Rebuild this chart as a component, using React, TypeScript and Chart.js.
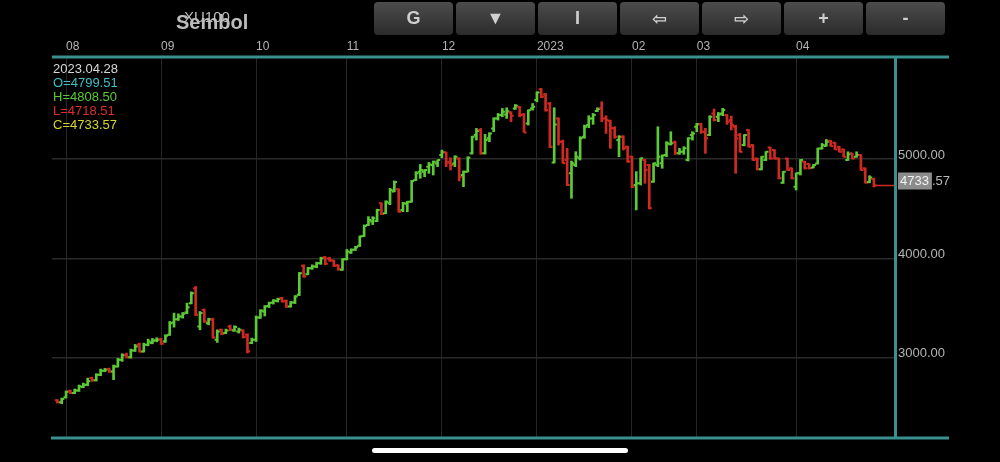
import React, { useEffect, useRef } from 'react';
import { Chart, registerables } from 'chart.js';

Chart.register(...registerables);

const monthStarts = [2, 24, 46, 67, 89, 111, 133, 148, 171];
const monthLabels = ['08', '09', '10', '11', '12', '2023', '02', '03', '04'];
const yTicks = [3000, 4000, 5000];
const lastDate = '2023.04.28';
const symbol = 'XU100';
const symbolHeader = 'Sembol';
const buttonLabels = ['G', '▼', 'I', '⇦', '⇨', '+', '-'];

const open = [
  2571, 2551, 2601, 2665, 2644, 2671, 2705, 2728, 2795, 2772,
  2829, 2869, 2886, 2862, 2912, 2979, 3030, 3006, 3073, 3134,
  3063, 3130, 3147, 3174, 3187, 3164, 3231, 3355, 3388, 3415,
  3455, 3549, 3700, 3315, 3482, 3348, 3382, 3181, 3281, 3248,
  3315, 3275, 3265, 3275, 3231, 3148, 3181, 3405, 3466, 3520,
  3556, 3570, 3600, 3573, 3516, 3556, 3633, 3925, 3840, 3901,
  3918, 3950, 4012, 4000, 3978, 3930, 3885, 3992, 4059, 4086,
  4126, 4226, 4337, 4370, 4375, 4555, 4454, 4555, 4672, 4695,
  4488, 4550, 4571, 4789, 4873, 4873, 4923, 4940, 4956, 5040,
  5067, 4966, 4956, 5006, 4839, 4873, 5057, 5241, 5291, 5057,
  5208, 5308, 5409, 5442, 5449, 5469, 5509, 5526, 5449, 5358,
  5509, 5593, 5703, 5650, 5559, 4966, 5409, 5174, 4990, 4856,
  4940, 5007, 5225, 5342, 5409, 5483, 5510, 5409, 5382, 5309,
  5191, 5225, 5124, 5024, 4739, 4756, 4990, 4940, 4772, 4940,
  4957, 5041, 5148, 5168, 5057, 5074, 4990, 5242, 5325, 5349,
  5275, 5242, 5459, 5426, 5459, 5443, 5392, 5325, 5241, 5140,
  5291, 5140, 5006, 4896, 4990, 5116, 5090, 5006, 4762, 5006,
  4906, 4722, 4856, 4973, 4950, 4915, 4956, 5106, 5132, 5183,
  5164, 5124, 5096, 4990, 5057, 5023, 5040, 4906, 4769, 4799.51,
];
const high = [
  2578, 2594, 2665, 2675, 2685, 2725, 2745, 2795, 2805, 2839,
  2886, 2892, 2896, 2926, 2993, 3040, 3047, 3087, 3134, 3147,
  3147, 3187, 3194, 3201, 3197, 3231, 3365, 3449, 3442, 3455,
  3549, 3663, 3717, 3465, 3489, 3398, 3398, 3281, 3288, 3288,
  3328, 3322, 3298, 3281, 3241, 3198, 3420, 3483, 3525, 3560,
  3585, 3600, 3608, 3580, 3566, 3625, 3858, 3935, 3910, 3935,
  3962, 4012, 4018, 4010, 3982, 3935, 3998, 4090, 4096, 4122,
  4226, 4337, 4420, 4420, 4495, 4560, 4580, 4705, 4779, 4700,
  4564, 4575, 4785, 4873, 4946, 4895, 4966, 4980, 4990, 5090,
  5070, 5013, 5033, 5013, 4880, 5023, 5230, 5308, 5308, 5248,
  5265, 5415, 5459, 5509, 5516, 5476, 5549, 5530, 5459, 5495,
  5559, 5677, 5710, 5660, 5569, 5516, 5415, 5191, 5108, 4980,
  5074, 5225, 5342, 5436, 5459, 5516, 5577, 5436, 5392, 5325,
  5235, 5235, 5130, 5030, 4873, 5010, 4995, 4947, 4960, 5325,
  5041, 5175, 5275, 5181, 5108, 5124, 5215, 5275, 5359, 5359,
  5309, 5436, 5503, 5469, 5510, 5449, 5432, 5341, 5258, 5245,
  5295, 5145, 5010, 5025, 5075, 5120, 5095, 5010, 4875, 5010,
  4910, 4860, 4995, 4978, 4955, 4945, 5110, 5157, 5197, 5188,
  5168, 5128, 5100, 5073, 5060, 5073, 5045, 4910, 4832, 4808.5,
];
const low = [
  2544, 2537, 2594, 2638, 2638, 2661, 2698, 2718, 2762, 2765,
  2819, 2859, 2852, 2779, 2906, 2963, 2999, 2996, 3063, 3057,
  3057, 3120, 3140, 3160, 3134, 3154, 3224, 3308, 3375, 3398,
  3442, 3542, 3425, 3281, 3355, 3331, 3197, 3154, 3231, 3241,
  3271, 3265, 3248, 3198, 3047, 3141, 3164, 3395, 3420, 3505,
  3540, 3560, 3560, 3505, 3510, 3545, 3625, 3810, 3835, 3890,
  3905, 3940, 3935, 3970, 3918, 3880, 3880, 3985, 4050, 4080,
  4120, 4220, 4330, 4340, 4370, 4440, 4450, 4540, 4670, 4465,
  4470, 4470, 4565, 4783, 4806, 4822, 4856, 4839, 4923, 5013,
  4923, 4889, 4923, 4779, 4722, 4870, 5050, 5191, 5047, 5050,
  5174, 5275, 5392, 5426, 5409, 5375, 5499, 5425, 5268, 5342,
  5492, 5576, 5616, 5482, 5114, 4960, 5141, 4956, 4732, 4605,
  4923, 4990, 5208, 5315, 5349, 5476, 5376, 5258, 5108, 5208,
  5024, 5091, 4967, 4712, 4488, 4739, 4756, 4498, 4766, 4923,
  4907, 5024, 5141, 5047, 5047, 5047, 4980, 5191, 5275, 5258,
  5057, 5235, 5382, 5376, 5436, 5349, 5292, 4856, 5070, 5132,
  5120, 4985, 4890, 4890, 4985, 5000, 5000, 4800, 4755, 4885,
  4800, 4688, 4839, 4900, 4900, 4910, 4950, 5100, 5128, 5128,
  5095, 5070, 5020, 4985, 5000, 5018, 4885, 4758, 4760, 4718.51,
];
const close = [
  2551, 2584, 2658, 2644, 2671, 2712, 2728, 2762, 2772, 2829,
  2869, 2879, 2862, 2912, 2979, 3026, 3006, 3073, 3114, 3063,
  3130, 3164, 3174, 3181, 3140, 3221, 3348, 3388, 3415, 3442,
  3509, 3649, 3432, 3449, 3365, 3388, 3204, 3264, 3241, 3275,
  3281, 3308, 3281, 3208, 3064, 3181, 3405, 3476, 3516, 3550,
  3576, 3590, 3566, 3516, 3556, 3617, 3851, 3818, 3901, 3918,
  3952, 4002, 3945, 3978, 3925, 3891, 3992, 4069, 4086, 4112,
  4220, 4327, 4387, 4404, 4488, 4447, 4571, 4689, 4768, 4470,
  4554, 4571, 4779, 4856, 4889, 4889, 4946, 4973, 4990, 5067,
  4966, 4940, 5023, 4822, 4873, 5013, 5224, 5281, 5057, 5191,
  5258, 5409, 5442, 5476, 5482, 5435, 5536, 5442, 5268, 5492,
  5526, 5670, 5626, 5492, 5124, 5348, 5174, 4957, 4739, 4957,
  5024, 5208, 5325, 5409, 5443, 5503, 5409, 5392, 5309, 5225,
  5225, 5108, 4974, 4722, 4756, 5007, 4890, 4505, 4957, 5024,
  5035, 5158, 5160, 5057, 5074, 5108, 5208, 5258, 5349, 5275,
  5208, 5426, 5392, 5449, 5493, 5376, 5342, 5207, 5073, 5241,
  5124, 4990, 4896, 5023, 5073, 5006, 5006, 4806, 4872, 4889,
  4806, 4856, 4990, 4906, 4906, 4939, 5106, 5140, 5173, 5132,
  5098, 5073, 5023, 5048, 5006, 5040, 4889, 4762, 4815, 4733.57,
];

const FONT = '"Liberation Sans", Arial, Helvetica, sans-serif';
const UP = '#5cc936';
const DOWN = '#cf2a22';
const TEAL = '#3a8f8f';

export default function App() {
  const ref = useRef<HTMLCanvasElement>(null);

  useEffect(() => {
    if (!ref.current) return;
    const colors = close.map((c, i) => (c >= open[i] ? UP : DOWN));

    const ohlcPlugin = {
      id: 'ohlcTicks',
      afterDatasetsDraw(chart: any) {
        const { ctx, chartArea } = chart;
        const x = chart.scales.x;
        const y = chart.scales.y;
        ctx.save();
        ctx.lineWidth = 2;
        for (let i = 0; i < close.length; i++) {
          const px = x.getPixelForValue(i);
          const yo = y.getPixelForValue(open[i]);
          const yc = y.getPixelForValue(close[i]);
          ctx.strokeStyle = colors[i];
          ctx.beginPath();
          ctx.moveTo(px - 2.6, yo);
          ctx.lineTo(px, yo);
          ctx.moveTo(px, yc);
          ctx.lineTo(px + 2.6, yc);
          ctx.stroke();
        }
        const n = close.length - 1;
        const yl = y.getPixelForValue(close[n]);
        ctx.strokeStyle = DOWN;
        ctx.lineWidth = 1.5;
        ctx.beginPath();
        ctx.moveTo(x.getPixelForValue(n), yl);
        ctx.lineTo(chartArea.right, yl);
        ctx.stroke();
        ctx.restore();
      },
      afterDraw(chart: any) {
        const { ctx, chartArea } = chart;
        const y = chart.scales.y;
        ctx.save();
        ctx.fillStyle = TEAL;
        ctx.fillRect(chartArea.left, chartArea.top - 1.5, y.right - chartArea.left, 3);
        ctx.fillRect(chartArea.left - 1, chartArea.bottom - 0.5, y.right - chartArea.left + 1, 3);
        ctx.fillRect(chartArea.right - 1, chartArea.top, 3, chartArea.bottom - chartArea.top);
        const n = close.length - 1;
        const parts = close[n].toFixed(2).split('.');
        const yl = y.getPixelForValue(close[n]) - 4.5;
        ctx.font = '13px ' + FONT;
        ctx.textBaseline = 'middle';
        ctx.textAlign = 'left';
        const w = ctx.measureText(parts[0]).width;
        const bx = chartArea.right + 3;
        ctx.fillStyle = '#8c8c8c';
        ctx.fillRect(bx, yl - 8.5, w + 5, 17);
        ctx.fillStyle = '#f2f2f2';
        ctx.fillText(parts[0], bx + 2, yl);
        ctx.fillStyle = '#b8b8b8';
        ctx.fillText('.' + parts[1], bx + w + 5, yl);
        ctx.restore();
      },
    };

    const chart = new Chart(ref.current, {
      type: 'bar',
      data: {
        datasets: [
          {
            data: low.map((l, i) => ({ x: i, y: [l, high[i]] })) as any,
            backgroundColor: colors,
            borderWidth: 0,
            barThickness: 2,
          },
        ],
      },
      options: {
        responsive: false,
        devicePixelRatio: 1,
        animation: false,
        events: [],
        layout: { padding: { left: 52, right: 51, top: 37, bottom: 25 } },
        plugins: { legend: { display: false }, tooltip: { enabled: false } },
        scales: {
          x: {
            type: 'linear',
            position: 'top',
            offset: false,
            min: -1.25,
            max: 193.89,
            afterBuildTicks: (s: any) => {
              s.ticks = monthStarts.map((v) => ({ value: v }));
            },
            afterFit: (s: any) => {
              s.height = 20;
            },
            grid: { color: '#262626', lineWidth: 1, drawTicks: false, offset: false },
            border: { display: false },
            ticks: {
              color: '#b4b4b4',
              font: { size: 12, family: FONT },
              padding: 3,
              align: 'start',
              maxRotation: 0,
              autoSkip: false,
              callback: (v: any) => {
                const k = monthStarts.indexOf(Number(v));
                return k >= 0 ? monthLabels[k] : '';
              },
            },
          },
          y: {
            type: 'linear',
            position: 'right',
            min: 2202,
            max: 6027,
            afterBuildTicks: (s: any) => {
              s.ticks = yTicks.map((v) => ({ value: v }));
            },
            afterFit: (s: any) => {
              s.width = 54;
            },
            grid: { color: '#2a2a2a', lineWidth: 1.5, drawTicks: false },
            border: { display: false },
            ticks: {
              color: '#b4b4b4',
              font: { size: 13, family: FONT },
              padding: 3,
              labelOffset: -4,
              callback: (v: any) => Number(v).toFixed(2),
            },
          },
        },
      } as any,
      plugins: [ohlcPlugin],
    });
    return () => chart.destroy();
  }, []);

  const n = close.length - 1;
  const legend = [
    { t: lastDate, c: '#d8d8d8' },
    { t: 'O=' + open[n].toFixed(2), c: '#3fbfc6' },
    { t: 'H=' + high[n].toFixed(2), c: '#5cc936' },
    { t: 'L=' + low[n].toFixed(2), c: '#dd2e2a' },
    { t: 'C=' + close[n].toFixed(2), c: '#d6d630' },
  ];

  return (
    <div
      style={{
        position: 'fixed',
        left: 0,
        top: 0,
        width: 1000,
        height: 462,
        background: '#000',
        overflow: 'hidden',
        fontFamily: FONT,
      }}
    >
      <canvas ref={ref} width={1000} height={462} style={{ position: 'absolute', left: 0, top: 0, width: 1000, height: 462 }} />
      <div style={{ position: 'absolute', left: 184, top: 9, fontSize: 15, lineHeight: '15px', color: '#bdbdbd', whiteSpace: 'nowrap' }}>
        {symbol}
      </div>
      <div style={{ position: 'absolute', left: 176, top: 12, fontSize: 20, lineHeight: '20px', fontWeight: 'bold', color: '#bdbdbd', whiteSpace: 'nowrap' }}>
        {symbolHeader}
      </div>
      {buttonLabels.map((b, k) => (
        <div
          key={k}
          style={{
            position: 'absolute',
            left: 374 + 82 * k,
            top: 2,
            width: 79,
            height: 33,
            borderRadius: 4,
            background: 'linear-gradient(to bottom, #4c4c4c, #2b2b2b)',
            color: '#d0d0d0',
            fontWeight: 'bold',
            fontSize: 18,
            lineHeight: '33px',
            textAlign: 'center',
            fontFamily: k === 3 || k === 4 ? '"DejaVu Sans", ' + FONT : FONT,
          }}
        >
          {b}
        </div>
      ))}
      {legend.map((l, k) => (
        <div
          key={k}
          style={{ position: 'absolute', left: 53, top: 61.5 + 14 * k, fontSize: 13, lineHeight: '13px', color: l.c, whiteSpace: 'nowrap' }}
        >
          {l.t}
        </div>
      ))}
      <div style={{ position: 'absolute', left: 372, top: 448, width: 256, height: 5, borderRadius: 3, background: '#fff' }} />
    </div>
  );
}
